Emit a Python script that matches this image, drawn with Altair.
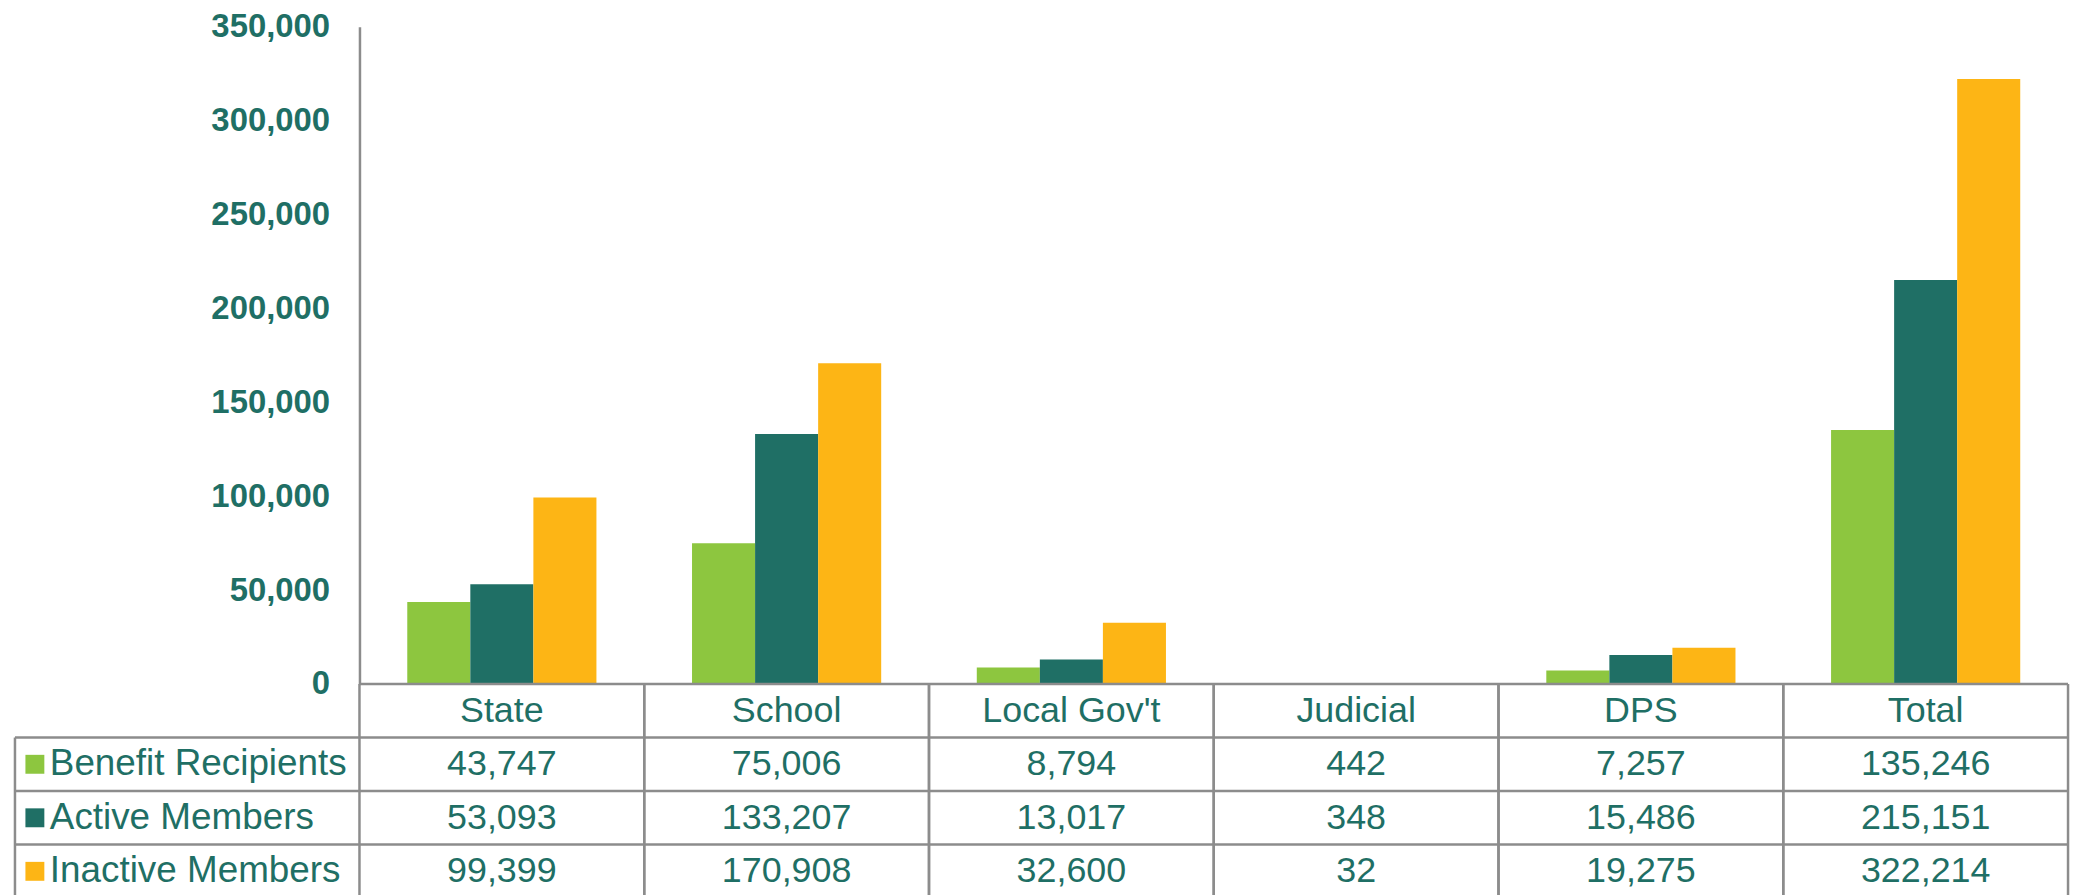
import altair as alt
import pandas as pd

cats = ["State", "School", "Local Gov't", "Judicial", "DPS", "Total"]
series = ["Benefit Recipients", "Active Members", "Inactive Members"]
benefit = [43747, 75006, 8794, 442, 7257, 135246]
active = [53093, 133207, 13017, 348, 15486, 215151]
inactive = [99399, 170908, 32600, 32, 19275, 322214]
colors = ["#8DC63F", "#1F6F65", "#FDB515"]
y_ticks = [0, 50000, 100000, 150000, 200000, 250000, 300000, 350000]

TEAL = "#1F6F65"
GRID = "#8C8C8C"
FONT = "Liberation Sans"
W = 1716
BAR_H = 660
ROW_H = 53.75
TABLE_H = 4 * ROW_H
LABEL_W = 346

rows = ["Category"] + series
values = {"Benefit Recipients": benefit, "Active Members": active, "Inactive Members": inactive}
df = pd.DataFrame(
    [{"cat": c, "series": s, "row": s, "value": values[s][i]} for s in series for i, c in enumerate(cats)]
)
df_cats = pd.DataFrame({"cat": cats, "row": ["Category"] * len(cats)})
df_series = pd.DataFrame({"row": series, "series": series})
df_header = pd.DataFrame({"row": ["Category"]})
df_bottom = pd.DataFrame({"row": [series[-1]]})

xs = alt.Scale(domain=cats, paddingInner=0, paddingOuter=0)
tableY = alt.Scale(domain=rows, range=[BAR_H, BAR_H + TABLE_H], paddingInner=0, paddingOuter=0)
color = alt.Color("series:N", scale=alt.Scale(domain=series, range=colors), legend=None)

bars = alt.Chart(df).mark_bar().encode(
    x=alt.X("cat:N", scale=xs, axis=None),
    xOffset=alt.XOffset("series:N", scale=alt.Scale(domain=series, paddingInner=0, paddingOuter=0.758)),
    y=alt.Y(
        "value:Q",
        scale=alt.Scale(domain=[0, 350000], range=[BAR_H, 0], nice=False),
        axis=alt.Axis(
            values=y_ticks, labelExpr="format(datum.value, ',')", title=None, grid=False, ticks=False,
            domainColor=GRID, domainWidth=2.5, labelFont=FONT, labelFontSize=33,
            labelFontWeight="bold", labelColor=TEAL, labelPadding=30,
        ),
    ),
    color=color,
)

vrules0 = alt.Chart(df_cats).mark_rule(color=GRID, strokeWidth=2.5).encode(
    x=alt.X("cat:N", scale=xs, bandPosition=0, axis=None),
    y=alt.value(BAR_H), y2=alt.value(BAR_H + TABLE_H),
)
vrules1 = alt.Chart(df_cats).mark_rule(color=GRID, strokeWidth=2.5).encode(
    x=alt.X("cat:N", scale=xs, bandPosition=1, axis=None),
    y=alt.value(BAR_H), y2=alt.value(BAR_H + TABLE_H),
)
left_rule = alt.Chart(df_header).mark_rule(color=GRID, strokeWidth=2.5).encode(
    x=alt.value(-LABEL_W), y=alt.value(BAR_H + ROW_H), y2=alt.value(BAR_H + TABLE_H),
)
header_top = alt.Chart(df_header).mark_rule(color=GRID, strokeWidth=2.5).encode(
    y=alt.Y("row:N", scale=tableY, bandPosition=0, axis=None),
    x=alt.value(0), x2=alt.value(W),
)
row_tops = alt.Chart(df_series).mark_rule(color=GRID, strokeWidth=2.5).encode(
    y=alt.Y("row:N", scale=tableY, bandPosition=0, axis=None),
    x=alt.value(-LABEL_W), x2=alt.value(W),
)
row_bottom = alt.Chart(df_bottom).mark_rule(color=GRID, strokeWidth=2.5).encode(
    y=alt.Y("row:N", scale=tableY, bandPosition=1, axis=None),
    x=alt.value(-LABEL_W), x2=alt.value(W),
)

header_text = alt.Chart(df_cats).mark_text(
    font=FONT, fontSize=36, color=TEAL, baseline="middle", align="center"
).encode(
    x=alt.X("cat:N", scale=xs, axis=None),
    y=alt.Y("row:N", scale=tableY, axis=None),
    text="cat:N",
)
cell_text = alt.Chart(df).mark_text(
    font=FONT, fontSize=36, color=TEAL, baseline="middle", align="center"
).encode(
    x=alt.X("cat:N", scale=xs, axis=None),
    y=alt.Y("row:N", scale=tableY, axis=None),
    text=alt.Text("value:Q", format=","),
)
row_labels = alt.Chart(df_series).mark_text(
    font=FONT, fontSize=37, color=TEAL, baseline="middle", align="left"
).encode(
    x=alt.value(-LABEL_W + 35),
    y=alt.Y("row:N", scale=tableY, axis=None),
    text="row:N",
)
swatches = alt.Chart(df_series).mark_square(size=361, opacity=1).encode(
    x=alt.value(-LABEL_W + 20),
    y=alt.Y("row:N", scale=tableY, axis=None),
    color=color,
)

chart = (
    alt.layer(
        bars, vrules0, vrules1, left_rule, header_top, row_tops, row_bottom,
        header_text, cell_text, row_labels, swatches,
    )
    .resolve_scale(y="independent")
    .properties(
        width=W, height=BAR_H + TABLE_H,
        padding={"left": 5, "top": 1, "right": 5, "bottom": 5},
        background="white",
    )
    .configure_view(strokeWidth=0)
)

chart.save("out.html", embed_options={"renderer": "svg", "actions": False})
